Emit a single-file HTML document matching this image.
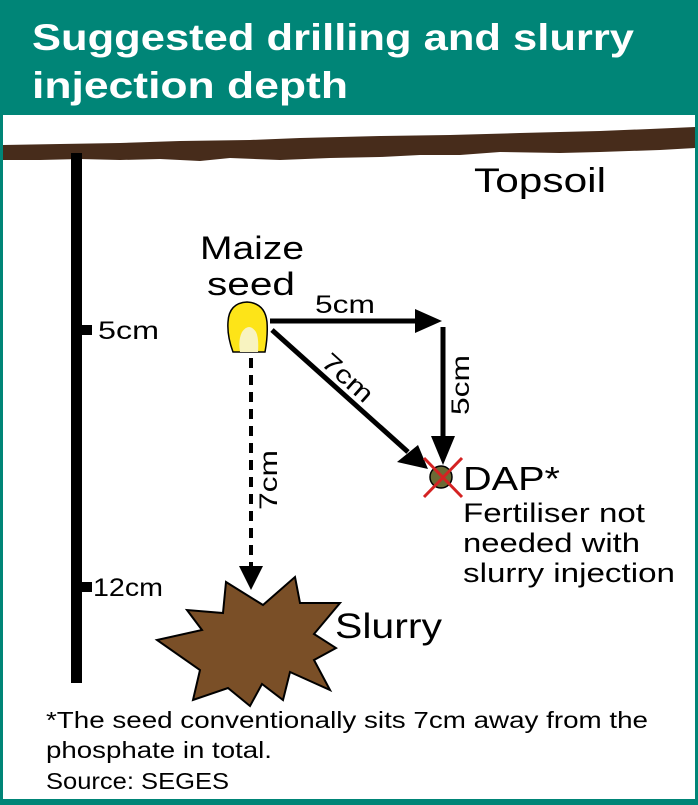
<!DOCTYPE html>
<html><head><meta charset="utf-8"><style>
html,body{margin:0;padding:0;background:#fff}
svg{display:block}
text{font-family:"Liberation Sans",sans-serif}
</style></head><body>
<svg width="698" height="805" viewBox="0 0 698 805" xmlns="http://www.w3.org/2000/svg">
<rect x="0" y="0" width="698" height="805" fill="#008577"/>
<rect x="3" y="115" width="692" height="684" fill="#fff"/>
<text x="32" y="50" font-size="37" font-weight="bold" fill="#fff" textLength="602" lengthAdjust="spacingAndGlyphs">Suggested drilling and slurry</text>
<text x="32" y="98" font-size="37" font-weight="bold" fill="#fff" textLength="316" lengthAdjust="spacingAndGlyphs">injection depth</text>
<!-- soil band -->
<polygon fill="#472c1b" points="3,145 60,144 120,143 180,141 250,140 300,138 380,136 450,135 520,133 600,131 650,129 695,127 695,148 660,150 600,152 560,153 500,152 460,155 420,155 380,157 330,158 280,160 230,158 200,161 160,159 120,160 80,159 40,160 3,160"/>
<text x="474" y="192" font-size="34" fill="#000" textLength="132" lengthAdjust="spacingAndGlyphs">Topsoil</text>
<!-- ruler -->
<rect x="71" y="153" width="11" height="530" fill="#000"/>
<rect x="82" y="325" width="10" height="10" fill="#000"/>
<rect x="82" y="582" width="10" height="10" fill="#000"/>
<text x="98" y="339" font-size="25" textLength="61" lengthAdjust="spacingAndGlyphs">5cm</text>
<text x="93" y="596" font-size="25" textLength="70" lengthAdjust="spacingAndGlyphs">12cm</text>
<!-- maize -->
<text x="200" y="259" font-size="32" textLength="104" lengthAdjust="spacingAndGlyphs">Maize</text>
<text x="207" y="295" font-size="32" textLength="88" lengthAdjust="spacingAndGlyphs">seed</text>
<path d="M233,352 L265,352 Q268,336 267,322 Q265,303 247,302 Q229,303 228,322 Q227,336 233,352 Z" fill="#fde418" stroke="#000" stroke-width="1.5"/>
<path d="M240,352 L258,352 Q259,338 256,332 Q249,322 242,332 Q238,340 240,352 Z" fill="#f8f3c0"/>
<!-- horizontal arrow -->
<line x1="270" y1="321" x2="420" y2="321" stroke="#000" stroke-width="5"/>
<polygon points="415,309 442,321 415,333" fill="#000"/>
<text x="315" y="313" font-size="25" textLength="60" lengthAdjust="spacingAndGlyphs">5cm</text>
<!-- vertical arrow -->
<line x1="443" y1="327" x2="443" y2="440" stroke="#000" stroke-width="5"/>
<polygon points="431,436 455,436 443,465" fill="#000"/>
<text transform="translate(469,385) rotate(-90)" font-size="25" text-anchor="middle" textLength="60" lengthAdjust="spacingAndGlyphs">5cm</text>
<!-- diagonal arrow -->
<line x1="272" y1="330" x2="408" y2="452" stroke="#000" stroke-width="5"/>
<polygon points="397,462 418,445 428,469" fill="#000"/>
<text transform="translate(342,384) rotate(42)" font-size="25" text-anchor="middle" textLength="60" lengthAdjust="spacingAndGlyphs">7cm</text>
<!-- dashed arrow -->
<line x1="251" y1="358" x2="251" y2="568" stroke="#000" stroke-width="4" stroke-dasharray="10,7"/>
<polygon points="239,566 263,566 251,590" fill="#000"/>
<text transform="translate(277,480) rotate(-90)" font-size="25" text-anchor="middle" textLength="60" lengthAdjust="spacingAndGlyphs">7cm</text>
<!-- DAP -->
<circle cx="441" cy="477" r="11" fill="#6b6a35" stroke="#000" stroke-width="1.5"/>
<line x1="424" y1="458" x2="462" y2="497" stroke="#d42222" stroke-width="3"/>
<line x1="462" y1="458" x2="424" y2="497" stroke="#d42222" stroke-width="3"/>
<text x="463" y="490" font-size="33" textLength="97" lengthAdjust="spacingAndGlyphs">DAP*</text>
<text x="463" y="522" font-size="27" textLength="182" lengthAdjust="spacingAndGlyphs">Fertiliser not</text>
<text x="463" y="552" font-size="27" textLength="177" lengthAdjust="spacingAndGlyphs">needed with</text>
<text x="463" y="582" font-size="27" textLength="212" lengthAdjust="spacingAndGlyphs">slurry injection</text>
<!-- slurry -->
<polygon fill="#7a4f27" stroke="#000" stroke-width="2" points="226,582 263,605 295,577 300,603 340,603 314,634 336,648 314,660 330,690 290,672 283,700 262,684 250,706 228,688 193,700 200,670 157,640 202,630 187,610 223,613"/>
<text x="335" y="638" font-size="35" textLength="107" lengthAdjust="spacingAndGlyphs">Slurry</text>
<!-- footnote -->
<text x="46" y="728" font-size="23" textLength="602" lengthAdjust="spacingAndGlyphs">*The seed conventionally sits 7cm away from the</text>
<text x="46" y="758" font-size="23" textLength="226" lengthAdjust="spacingAndGlyphs">phosphate in total.</text>
<text x="46" y="789" font-size="23" textLength="183" lengthAdjust="spacingAndGlyphs">Source: SEGES</text>
</svg>
</body></html>
